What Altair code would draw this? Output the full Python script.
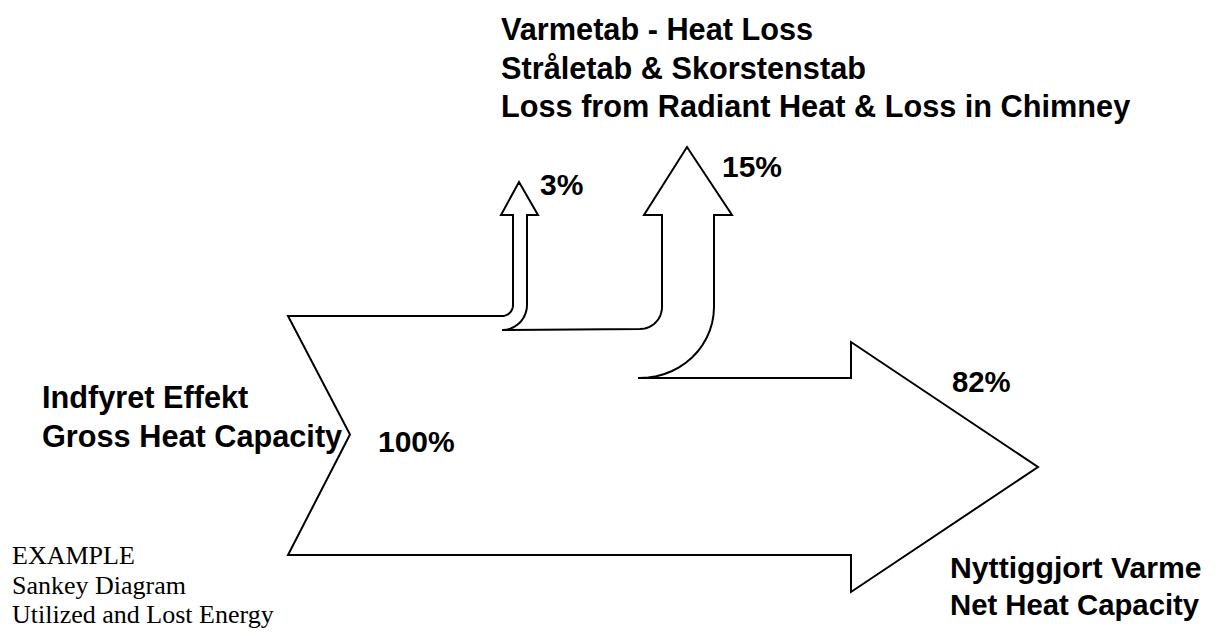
import math
import altair as alt
import pandas as pd

# ---- content ----
flow_names = ["Indfyret Effekt", "Stråletab", "Skorstenstab", "Nyttiggjort Varme"]
flow_values = [100, 3, 15, 82]

title_lines = ["Varmetab - Heat Loss", "Stråletab & Skorstenstab",
               "Loss from Radiant Heat & Loss in Chimney"]
input_lines = ["Indfyret Effekt", "Gross Heat Capacity"]
output_lines = ["Nyttiggjort Varme", "Net Heat Capacity"]
note_lines = ["EXAMPLE", "Sankey Diagram", "Utilized and Lost Energy"]

# ---- layout (pixel space of the page) ----
X0, X_NOTCH = 288, 350          # left edge of input band, notch point
Y_TOP, Y_BOT = 316, 555         # input band edges
Y_MID = (Y_TOP + Y_BOT) / 2 - 1
T3 = 14                         # 3% band thickness drawn
B3_X, B15_X = 513, 662          # left side of branch shafts
HEAD_Y3, HEAD_Y15 = 215, 215
TIP_Y3, TIP_Y15 = 182, 147
HEAD_X, TIP_X = 851, 1038
HEAD_TOP, HEAD_BOT = 342, 592


def arc(cx, cy, rx, ry, a0, a1, n=14):
    pts = []
    for i in range(n + 1):
        a = math.radians(a0 + (a1 - a0) * i / n)
        pts.append((cx + rx * math.cos(a), cy + ry * math.sin(a)))
    return pts


y3 = Y_TOP + T3 - 1            # bottom of 3% band
y15 = 378                       # bottom of 15% band
r3i = 11
c3 = (B3_X - r3i, Y_TOP - r3i)
r15i = 22
c15 = (B15_X - r15i, y3 - r15i)
shaft3_r = B3_X + T3
shaft15_r = 714

pts = []
pts += [(c15[0] - 2, y15), (HEAD_X, y15), (HEAD_X, HEAD_TOP), (TIP_X, (y15 + Y_BOT) / 2 + 0.5),
        (HEAD_X, HEAD_BOT), (HEAD_X, Y_BOT), (X0, Y_BOT), (X_NOTCH, Y_MID), (X0, Y_TOP),
        (c3[0], Y_TOP)]
pts += arc(c3[0], c3[1], r3i, r3i, 90, 0)
pts += [(B3_X, HEAD_Y3), (B3_X - 12, HEAD_Y3), ((B3_X + shaft3_r) / 2 - 1, TIP_Y3),
        (shaft3_r + 11, HEAD_Y3), (shaft3_r, HEAD_Y3), (shaft3_r, c3[1])]
pts += arc(c3[0], c3[1], shaft3_r - c3[0], shaft3_r - c3[0], 0, 90)
pts += [(c15[0], y3)]
pts += arc(c15[0], c15[1], r15i, r15i, 90, 0)
pts += [(B15_X, HEAD_Y15), (B15_X - 18, HEAD_Y15), ((B15_X + shaft15_r) / 2 - 1, TIP_Y15),
        (shaft15_r + 18, HEAD_Y15), (shaft15_r, HEAD_Y15), (shaft15_r, c15[1])]
pts += arc(c15[0], c15[1], shaft15_r - c15[0], y15 - c15[1], 0, 90)
pts += [(c15[0] - 2, y15)]

outline = pd.DataFrame({"x": [p[0] for p in pts], "y": [p[1] for p in pts],
                        "i": list(range(len(pts)))})

# plot area is 1203 x 620 placed at page (8, 8): data units == page pixels
X = alt.X("x:Q", scale=alt.Scale(domain=[8, 1211], nice=False, zero=False), axis=None)
Y = alt.Y("y:Q", scale=alt.Scale(domain=[628, 8], nice=False, zero=False), axis=None)

shape = alt.Chart(outline).mark_line(
    color="black", strokeWidth=2, strokeJoin="miter", strokeMiterLimit=20
).encode(x=X, y=Y, order="i:Q")

label_rows = ([(t, 501, b, 30.7) for t, b in zip(title_lines, [40, 78.5, 117])] +
              [(t, 42, b, 30.7) for t, b in zip(input_lines, [408, 447])] +
              [(output_lines[0], 950, 578, 30.2), (output_lines[1], 950, 615, 29.3)] +
              [(f"{flow_values[1]}%", 540, 195, 30), (f"{flow_values[2]}%", 722, 177, 30),
               (f"{flow_values[3]}%", 952, 392, 29.3), (f"{flow_values[0]}%", 378, 452, 30)])
bold_df = pd.DataFrame(label_rows, columns=["t", "x", "y", "s"])
serif_df = pd.DataFrame([(t, 12, b) for t, b in zip(note_lines, [564, 594, 623])],
                        columns=["t", "x", "y"])

bold = alt.Chart(bold_df).mark_text(
    font="Liberation Sans", fontWeight="bold", align="left",
    baseline="alphabetic", color="black"
).encode(x=X, y=Y, text="t:N",
         size=alt.Size("s:Q", scale=None, legend=None))

serif = alt.Chart(serif_df).mark_text(
    font="Liberation Serif", fontSize=26, align="left",
    baseline="alphabetic", color="black"
).encode(x=X, y=Y, text="t:N")

chart = alt.layer(shape, bold, serif).properties(
    width=1203, height=620, padding=0, background="white",
    autosize=alt.AutoSizeParams(type="none")
).configure_view(stroke=None)

chart.save("out.html", embed_options={"renderer": "svg", "actions": False})
